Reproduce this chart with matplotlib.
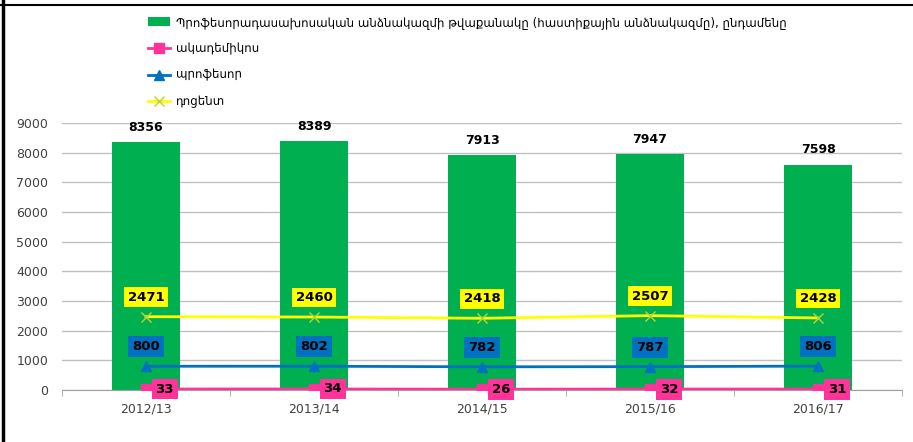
import matplotlib

matplotlib.use("Agg")
from matplotlib import pyplot as plt
from matplotlib.lines import Line2D

years = ["2012/13", "2013/14", "2014/15", "2015/16", "2016/17"]
total_staff = [8356, 8389, 7913, 7947, 7598]
academicians = [33, 34, 26, 32, 31]
professors = [800, 802, 782, 787, 806]
docents = [2471, 2460, 2418, 2507, 2428]

label_total = "Պրոֆեսորադասախոսական անձնակազմի թվաքանակը (հաստիքային անձնակազմը), ընդամենը"
label_acad = "ակադեմիկոս"
label_prof = "պրոֆեսոր"
label_doc = "դոցենտ"

GREEN = "#00B050"
PINK = "#FF3399"
BLUE = "#0070C0"
YELLOW = "#FFFF00"

plt.rcParams["font.family"] = ["DejaVu Sans"]

fig = plt.figure(figsize=(9.13, 4.42), dpi=100)
ax = fig.add_axes([62 / 913, 1 - 390 / 442, 840 / 913, 267 / 442])

x = list(range(len(years)))
ax.bar(x, total_staff, width=0.4, color=GREEN, zorder=2, label=label_total)
ax.plot(x, academicians, color=PINK, lw=2, marker="s", ms=6.5, zorder=3, label=label_acad)
ax.plot(x, professors, color=BLUE, lw=2, marker="^", ms=7, zorder=3, label=label_prof)
ax.plot(x, docents, color=YELLOW, lw=2, marker="x", ms=7, mec="#B8D430", zorder=3, label=label_doc)

for xi, v in zip(x, total_staff):
    ax.annotate(str(v), (xi, v), xytext=(0, 6), textcoords="offset points",
                ha="center", va="bottom", fontsize=9, fontweight="bold")
for xi, v in zip(x, docents):
    ax.annotate(str(v), (xi, v), xytext=(0, 14), textcoords="offset points",
                ha="center", va="center", fontsize=9.5, fontweight="bold",
                bbox=dict(boxstyle="square,pad=0.25", fc=YELLOW, ec="none"), zorder=5)
for xi, v in zip(x, professors):
    ax.annotate(str(v), (xi, v), xytext=(0, 14), textcoords="offset points",
                ha="center", va="center", fontsize=9.5, fontweight="bold",
                bbox=dict(boxstyle="square,pad=0.3", fc=BLUE, ec="none"), zorder=5)
for xi, v in zip(x, academicians):
    ax.annotate(str(v), (xi, v), xytext=(13.5, 0), textcoords="offset points",
                ha="center", va="center", fontsize=9.5, fontweight="bold",
                bbox=dict(boxstyle="square,pad=0.3", fc=PINK, ec="none"), zorder=5)

ax.set_xlim(-0.5, len(years) - 0.5)
ax.set_ylim(0, 9000)
ax.set_yticks(range(0, 9001, 1000))
ax.set_xticks(x, years)
ax.set_xticks([i - 0.5 for i in range(len(years) + 1)], minor=True)
ax.tick_params(axis="x", which="major", length=0, labelsize=9, colors="#404040", pad=9)
ax.tick_params(axis="x", which="minor", length=4, color="#A0A0A0")
ax.tick_params(axis="y", length=0, labelsize=9, colors="#404040", pad=10)
ax.grid(axis="y", color="#C0C0C0", lw=1, zorder=0)
for side in ("left", "right", "top"):
    ax.spines[side].set_visible(False)
ax.spines["bottom"].set_color("#A0A0A0")

handles, labels = ax.get_legend_handles_labels()
order = [3, 0, 1, 2]
handles = [handles[i] for i in order]
labels = [labels[i] for i in order]
fig.legend(handles, labels, loc="upper left", bbox_to_anchor=(143 / 913, 1 - 11 / 442),
           frameon=False, fontsize=8.5, handlelength=1.9, labelspacing=1.15,
           handletextpad=0.5, borderaxespad=0)

# black frame lines at left and top edges
fig.add_artist(Line2D([3 / 913, 3 / 913], [0, 1], transform=fig.transFigure, color="black", lw=2.5))
fig.add_artist(Line2D([0, 1], [1 - 5 / 442, 1 - 5 / 442], transform=fig.transFigure, color="black", lw=1.5))

fig.savefig("out.png", dpi=100)
